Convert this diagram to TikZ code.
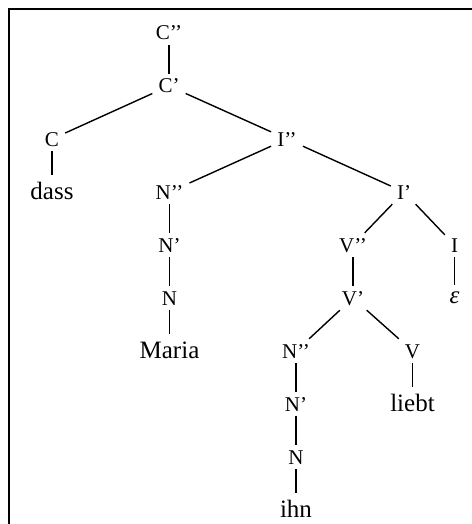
\documentclass[tikz,border=0pt]{standalone}
\usepackage{fontspec}
\setmainfont{Liberation Serif}
\begin{document}
\begin{tikzpicture}[x=1pt,y=-1pt,
  cat/.style={font=\fontsize{21}{21}\selectfont, text height=14pt, text depth=0pt, inner xsep=6pt, inner ysep=5pt, anchor=center},
  wrd/.style={font=\fontsize{25}{25}\selectfont, text height=17pt, text depth=5pt, inner xsep=4pt, inner ysep=7pt, anchor=base},
  epsn/.style={font=\fontsize{25}{25}\selectfont\itshape, text height=12pt, text depth=0pt, inner ysep=6pt, anchor=base},
  br/.style={line width=1.4pt}]
\useasboundingbox (0,0) rectangle (471,524);
\draw[line width=2.4pt] (9,540) -- (9,9) -- (490,9);
% categories
\node[cat] (c2) at (169,33) {C’’};
\node[cat] (c1) at (169,86) {C’};
\node[cat] (c0) at (52,139) {C};
\node[wrd] (dass) at (52,199) {dass};
\node[cat] (i2) at (287,139) {I’’};
\node[cat] (n2a) at (169.5,192) {N’’};
\node[cat] (n1a) at (169.5,245) {N’};
\node[cat] (n0a) at (169.5,298) {N};
\node[wrd] (maria) at (169.5,358) {Maria};
\node[cat] (i1) at (404,192) {I’};
\node[cat] (v2) at (353,245) {V’’};
\node[cat] (i0) at (454.5,245) {I};
\node[cat] (v1) at (353,298) {V’};
\node[epsn] (eps) at (454.5,303) {ε};
\node[cat] (n2b) at (296,351) {N’’};
\node[cat] (v0) at (412.5,351) {V};
\node[cat] (n1b) at (296,404) {N’};
\node[wrd] (liebt) at (412.5,411) {liebt};
\node[cat] (n0b) at (296,457) {N};
\node[wrd] (ihn) at (296,517) {ihn};
% branches
\draw[br] (c2) -- (c1);
\draw[br] (c1) -- (c0);
\draw[br] (c1) -- (i2);
\draw[br] (c0) -- (dass);
\draw[br] (i2) -- (n2a);
\draw[br] (i2) -- (i1);
\draw[br] (n2a) -- (n1a);
\draw[br] (n1a) -- (n0a);
\draw[br] (n0a) -- (maria);
\draw[br] (i1) -- (v2);
\draw[br] (i1) -- (i0);
\draw[br] (i0) -- (eps);
\draw[br] (v2) -- (v1);
\draw[br] (v1) -- (n2b);
\draw[br] (v1) -- (v0);
\draw[br] (v0) -- (liebt);
\draw[br] (n2b) -- (n1b);
\draw[br] (n1b) -- (n0b);
\draw[br] (n0b) -- (ihn);
\end{tikzpicture}
\end{document}
